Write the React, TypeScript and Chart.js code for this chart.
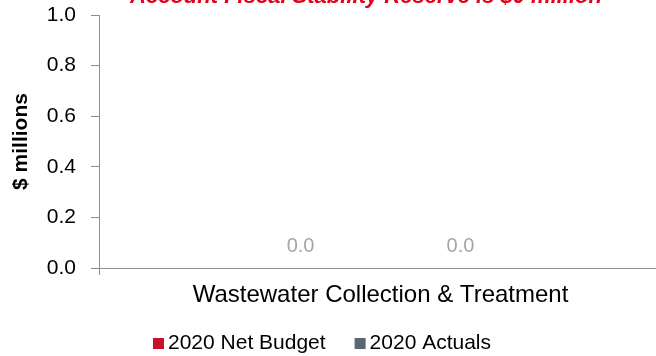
import React, { useEffect, useRef } from 'react';
import { Chart, registerables } from 'chart.js';

Chart.register(...registerables);

const categories = ['Wastewater Collection & Treatment'];
const netBudget = [0.0];
const actuals = [0.0];
const seriesLabels = ['2020 Net Budget', '2020 Actuals'];
const seriesColors = ['#C8102E', '#5B6670'];
const yTickValues = [0, 0.2, 0.4, 0.6, 0.8, 1.0];
const titleText = 'Account Fiscal Stability Reserve is $0 million';
const yAxisTitle = '$ millions';

const FONT = "'Liberation Sans', Arial, sans-serif";
const AXIS_GRAY = '#8f8f8f';

const titlePlugin = {
  id: 'clippedTitle',
  afterDraw(chart: any) {
    const ctx = chart.ctx;
    ctx.save();
    ctx.font = `italic bold 22px ${FONT}`;
    ctx.fillStyle = '#E2001A';
    ctx.textAlign = 'center';
    ctx.textBaseline = 'alphabetic';
    ctx.fillText(titleText, 366, 3);
    ctx.restore();
  },
};

const dataLabelPlugin = {
  id: 'dataLabels',
  afterDatasetsDraw(chart: any) {
    const ctx = chart.ctx;
    ctx.save();
    ctx.font = `20px ${FONT}`;
    ctx.fillStyle = '#A6A6A6';
    ctx.textAlign = 'center';
    ctx.textBaseline = 'alphabetic';
    chart.data.datasets.forEach((ds: any, i: number) => {
      const meta = chart.getDatasetMeta(i);
      meta.data.forEach((bar: any, j: number) => {
        const v = ds.data[j];
        ctx.fillText(Number(v).toFixed(1), bar.x, bar.y - 16);
      });
    });
    ctx.restore();
  },
};

const legendPlugin = {
  id: 'customLegend',
  afterDraw(chart: any) {
    const ctx = chart.ctx;
    ctx.save();
    ctx.font = `21px ${FONT}`;
    ctx.textBaseline = 'alphabetic';
    ctx.textAlign = 'left';
    const box = 11;
    const gap = 4;
    const itemGap = 29;
    const items = chart.data.datasets.map((ds: any) => ({
      label: ds.label,
      color: ds.backgroundColor,
      w: box + gap + ctx.measureText(ds.label).width,
    }));
    const total = items.reduce((s: number, it: any) => s + it.w, 0) + itemGap * (items.length - 1);
    let x = 322 - total / 2;
    const baseline = 349;
    items.forEach((it: any) => {
      ctx.fillStyle = it.color;
      ctx.fillRect(x, baseline - 11, box, box);
      ctx.fillStyle = '#000000';
      ctx.fillText(it.label, x + box + gap, baseline);
      x += it.w + itemGap;
    });
    ctx.restore();
  },
};

export default function App() {
  const ref = useRef<HTMLCanvasElement | null>(null);

  useEffect(() => {
    if (!ref.current) return;
    const chart = new Chart(ref.current, {
      type: 'bar',
      data: {
        labels: categories,
        datasets: [
          { label: seriesLabels[0], data: netBudget, backgroundColor: seriesColors[0] },
          { label: seriesLabels[1], data: actuals, backgroundColor: seriesColors[1] },
        ],
      },
      options: {
        responsive: false,
        animation: false,
        devicePixelRatio: 1,
        layout: { padding: { top: 15, left: 0, right: 0, bottom: 0 } },
        datasets: { bar: { categoryPercentage: 0.568, barPercentage: 0.9 } },
        plugins: {
          legend: { display: false },
          title: { display: false },
          tooltip: { enabled: false },
        },
        scales: {
          x: {
            offset: true,
            grid: {
              display: true,
              drawOnChartArea: false,
              drawTicks: true,
              tickLength: 7,
              color: AXIS_GRAY,
              offset: true,
            },
            border: { display: true, color: AXIS_GRAY, width: 1 },
            ticks: {
              font: { family: FONT, size: 24 },
              color: '#000000',
              padding: 6,
              maxRotation: 0,
            },
            afterFit(scale: any) {
              scale.height = 88;
            },
          },
          y: {
            min: 0,
            max: 1,
            afterBuildTicks(scale: any) {
              scale.ticks = yTickValues.map((v) => ({ value: v }));
            },
            grid: {
              display: true,
              drawOnChartArea: false,
              drawTicks: true,
              tickLength: 8,
              color: AXIS_GRAY,
            },
            border: { display: true, color: AXIS_GRAY, width: 1 },
            ticks: {
              font: { family: FONT, size: 21 },
              color: '#000000',
              padding: 15,
              callback: (v: any) => Number(v).toFixed(1),
            },
            title: {
              display: true,
              text: yAxisTitle,
              font: { family: FONT, size: 21, weight: 'bold' },
              color: '#000000',
              padding: { top: 9, bottom: 0 },
            },
            afterFit(scale: any) {
              scale.width = 99;
              scale.paddingTop = 0;
              scale.paddingBottom = 0;
            },
          },
        },
      },
      plugins: [titlePlugin, dataLabelPlugin, legendPlugin],
    } as any);
    return () => chart.destroy();
  }, []);

  return (
    <div
      style={{
        position: 'absolute',
        left: 0,
        top: 0,
        width: 656,
        height: 356,
        overflow: 'hidden',
        background: '#ffffff',
      }}
    >
      <canvas ref={ref} width={662} height={356} style={{ display: 'block' }} />
    </div>
  );
}
